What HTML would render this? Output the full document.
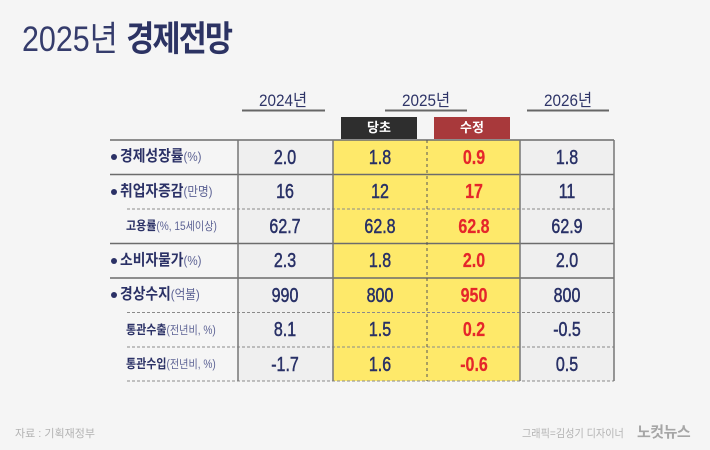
<!DOCTYPE html>
<html><head><meta charset="utf-8">
<style>
html,body{margin:0;padding:0;}
body{width:710px;height:450px;overflow:hidden;background:#f5f5f5;position:relative;font-family:"Liberation Sans","Noto Sans CJK KR",sans-serif;}
.abs{position:absolute;white-space:nowrap;}
.title{left:22px;top:22px;font-size:35px;line-height:35px;color:#353c6c;transform:scaleX(0.87);transform-origin:0 0;}
.title b{font-weight:bold;letter-spacing:-2px;color:#2c3363;}
.yr{font-size:17px;line-height:17px;color:#2f3568;width:100px;text-align:center;transform:scaleX(0.9);}
.tag{color:#fff;font-weight:bold;font-size:13px;text-align:center;line-height:22px;height:22px;}
.val{width:94px;text-align:center;font-family:"Liberation Sans",sans-serif;font-size:20px;line-height:20px;color:#283066;transform:scaleX(0.8);transform-origin:50% 50%;-webkit-text-stroke:0.5px #283066;}
.red{color:#e5262a;font-weight:bold;-webkit-text-stroke:0.2px #e5262a;}
.lab{font-size:15.5px;line-height:16px;font-weight:bold;color:#2b3166;transform:scaleX(0.89);transform-origin:0 50%;}
.lab span{font-size:13px;font-weight:normal;color:#5c6294;}
.sub{font-size:12.5px;line-height:14px;font-weight:bold;color:#2b3166;transform:scaleX(0.88);transform-origin:0 50%;}
.sub span{font-size:11.5px;font-weight:normal;color:#5c6294;}
.dot{width:6px;height:6px;border-radius:50%;background:#2b3166;}
.foot{font-size:11px;line-height:12px;color:#b3b3b3;}
</style></head><body>
<svg class="abs" style="left:0;top:0" width="710" height="450">
  <rect x="238" y="140" width="95" height="241" fill="#efefef"/>
  <rect x="333" y="140" width="187" height="241" fill="#fee96a"/>
  <rect x="520" y="140" width="94" height="241" fill="#efefef"/>
  <line x1="242" y1="110.5" x2="325" y2="110.5" stroke="#666" stroke-width="2"/>
  <line x1="385" y1="110.5" x2="467" y2="110.5" stroke="#666" stroke-width="2"/>
  <line x1="527" y1="110.5" x2="609" y2="110.5" stroke="#666" stroke-width="2"/>
  <rect x="341" y="117" width="76" height="22" fill="#2e2e2e"/>
  <rect x="434" y="117" width="76" height="22" fill="#a8393b"/>
  <g stroke="#6c6c6c" stroke-width="1.5">
    <line x1="110" y1="140" x2="614" y2="140"/>
    <line x1="110" y1="174.5" x2="614" y2="174.5"/>
    <line x1="110" y1="243.5" x2="614" y2="243.5"/>
    <line x1="110" y1="278" x2="614" y2="278"/>
  </g>
  <g stroke="#8a8a8a" stroke-width="1" stroke-dasharray="3,2">
    <line x1="127" y1="209" x2="614" y2="209"/>
    <line x1="127" y1="312.5" x2="614" y2="312.5"/>
    <line x1="127" y1="347" x2="614" y2="347"/>
    <line x1="127" y1="381" x2="614" y2="381"/>
  </g>
  <g stroke="#777" stroke-width="1.5">
    <line x1="238" y1="140" x2="238" y2="381"/>
    <line x1="333" y1="140" x2="333" y2="381"/>
    <line x1="520" y1="140" x2="520" y2="381"/>
    <line x1="614" y1="140" x2="614" y2="381"/>
  </g>
  <line x1="427" y1="140" x2="427" y2="381" stroke="#555" stroke-width="1" stroke-dasharray="3,3"/>
</svg>

<div class="abs title">2025년 <b>경제전망</b></div>

<div class="abs yr" style="left:233px;top:92px;">2024년</div>
<div class="abs yr" style="left:376px;top:92px;">2025년</div>
<div class="abs yr" style="left:518px;top:92px;">2026년</div>

<div class="abs tag" style="left:341px;top:117px;width:76px;">당초</div>
<div class="abs tag" style="left:434px;top:117px;width:76px;">수정</div>

<div class="abs dot" style="left:111px;top:154px;"></div>
<div class="abs lab" style="left:120px;top:149px;">경제성장률<span>(%)</span></div>
<div class="abs dot" style="left:111px;top:188.5px;"></div>
<div class="abs lab" style="left:120px;top:183.5px;">취업자증감<span>(만명)</span></div>
<div class="abs sub" style="left:126px;top:219px;">고용률<span>(%, 15세이상)</span></div>
<div class="abs dot" style="left:111px;top:257.5px;"></div>
<div class="abs lab" style="left:120px;top:252.5px;">소비자물가<span>(%)</span></div>
<div class="abs dot" style="left:111px;top:292px;"></div>
<div class="abs lab" style="left:120px;top:287px;">경상수지<span>(억불)</span></div>
<div class="abs sub" style="left:126px;top:322.5px;">통관수출<span>(전년비, %)</span></div>
<div class="abs sub" style="left:126px;top:357px;">통관수입<span>(전년비, %)</span></div>

<div class="abs val" style="left:238px;top:148px;">2.0</div>
<div class="abs val" style="left:333px;top:148px;">1.8</div>
<div class="abs val red" style="left:427px;top:148px;">0.9</div>
<div class="abs val" style="left:520px;top:148px;">1.8</div>
<div class="abs val" style="left:238px;top:182px;">16</div>
<div class="abs val" style="left:333px;top:182px;">12</div>
<div class="abs val red" style="left:427px;top:182px;">17</div>
<div class="abs val" style="left:520px;top:182px;">11</div>
<div class="abs val" style="left:238px;top:217px;">62.7</div>
<div class="abs val" style="left:333px;top:217px;">62.8</div>
<div class="abs val red" style="left:427px;top:217px;">62.8</div>
<div class="abs val" style="left:520px;top:217px;">62.9</div>
<div class="abs val" style="left:238px;top:251px;">2.3</div>
<div class="abs val" style="left:333px;top:251px;">1.8</div>
<div class="abs val red" style="left:427px;top:251px;">2.0</div>
<div class="abs val" style="left:520px;top:251px;">2.0</div>
<div class="abs val" style="left:238px;top:286px;">990</div>
<div class="abs val" style="left:333px;top:286px;">800</div>
<div class="abs val red" style="left:427px;top:286px;">950</div>
<div class="abs val" style="left:520px;top:286px;">800</div>
<div class="abs val" style="left:238px;top:320px;">8.1</div>
<div class="abs val" style="left:333px;top:320px;">1.5</div>
<div class="abs val red" style="left:427px;top:320px;">0.2</div>
<div class="abs val" style="left:520px;top:320px;">-0.5</div>
<div class="abs val" style="left:238px;top:355px;">-1.7</div>
<div class="abs val" style="left:333px;top:355px;">1.6</div>
<div class="abs val red" style="left:427px;top:355px;">-0.6</div>
<div class="abs val" style="left:520px;top:355px;">0.5</div>

<div class="abs foot" style="left:15px;top:428px;">자료 : 기획재정부</div>
<div class="abs foot" style="left:522px;top:428px;transform:scaleX(0.92);transform-origin:0 0;">그래픽=김성기 디자이너</div>
<div class="abs" style="left:637px;top:425px;font-size:15px;line-height:15px;font-weight:bold;color:#a6a6a6;letter-spacing:-0.5px;">노컷뉴스</div>
</body></html>
